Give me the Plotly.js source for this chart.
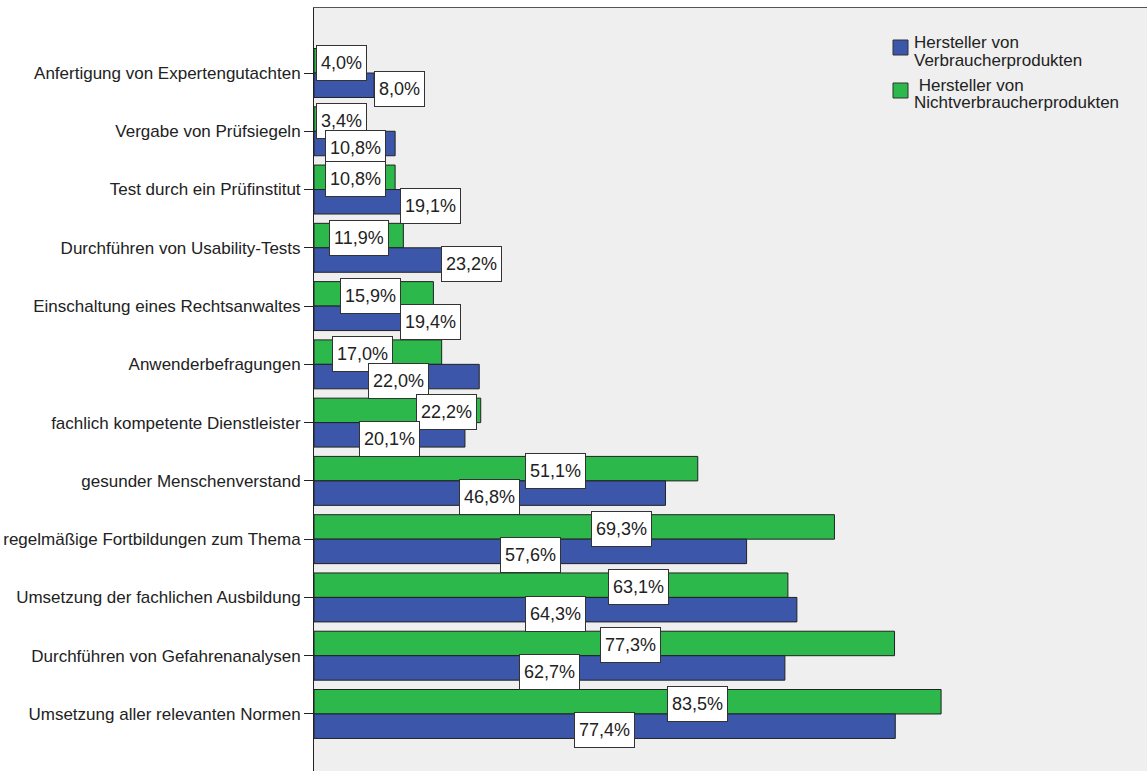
<!DOCTYPE html>
<html>
<head>
<meta charset="utf-8">
<script src="https://cdn.plot.ly/plotly-3.0.1.min.js"></script>
<style>
  html, body { margin: 0; padding: 0; background: #ffffff; }
  #chart { width: 1147px; height: 771px; }
</style>
</head>
<body>
<div id="chart"></div>
<script>
// Maßnahmen zur Absicherung – Anteil der Nennungen in Prozent
const categories = [
  "Anfertigung von Expertengutachten",
  "Vergabe von Prüfsiegeln",
  "Test durch ein Prüfinstitut",
  "Durchführen von Usability-Tests",
  "Einschaltung eines Rechtsanwaltes",
  "Anwenderbefragungen",
  "fachlich kompetente Dienstleister",
  "gesunder Menschenverstand",
  "regelmäßige Fortbildungen zum Thema",
  "Umsetzung der fachlichen Ausbildung",
  "Durchführen von Gefahrenanalysen",
  "Umsetzung aller relevanten Normen"
];

const verbraucher = [8.0, 10.8, 19.1, 23.2, 19.4, 22.0, 20.1, 46.8, 57.6, 64.3, 62.7, 77.4];
const nichtverbraucher = [4.0, 3.4, 10.8, 11.9, 15.9, 17.0, 22.2, 51.1, 69.3, 63.1, 77.3, 83.5];

const seriesNames = [
  ["Hersteller von", "Verbraucherprodukten"],
  [" Hersteller von", "Nichtverbraucherprodukten"]
];

// Horizontal anchor (in % units) of each value label box
const labelPosVerbraucher = [11.4, 5.5, 15.5, 21.0, 15.5, 11.2, 10.0, 23.4, 28.8, 32.2, 31.4, 38.7];
const labelPosNicht = [3.6, 3.6, 5.5, 6.0, 7.5, 6.5, 17.6, 32.2, 41.0, 43.2, 42.1, 51.0];

const BLUE = "#3c56aa";
const GREEN = "#2db84b";
const FONT = "Liberation Sans, Arial, sans-serif";

const idx = categories.map((_, i) => i);
const fmt = v => v.toFixed(1).replace(".", ",") + "%";

const traces = [
  {
    type: "bar", orientation: "h", name: "Nicht",
    x: nichtverbraucher, y: idx,
    marker: { color: GREEN, line: { color: "#222222", width: 1 } },
    hoverinfo: "x+y", showlegend: false
  },
  {
    type: "bar", orientation: "h", name: "Verbraucher",
    x: verbraucher, y: idx,
    marker: { color: BLUE, line: { color: "#222222", width: 1 } },
    hoverinfo: "x+y", showlegend: false
  }
];

// plot frame in pixels
const L = 314, T = 8, W = 1147 - 314, H = 771 - 8;
const px = x => (x - L) / W;
const py = y => 1 - (y - T) / H;

const annotations = [];
const OFF = 0.21;
const labelStyle = {
  showarrow: false, xref: "x", yref: "y",
  font: { family: FONT, size: 18, color: "#222222" },
  bgcolor: "#ffffff", bordercolor: "#333333", borderwidth: 1, borderpad: 4,
  height: 26
};
idx.forEach(i => {
  annotations.push(Object.assign({}, labelStyle, {
    x: labelPosNicht[i], y: i - OFF, yshift: -2,
    text: fmt(nichtverbraucher[i])
  }));
  annotations.push(Object.assign({}, labelStyle, {
    x: labelPosVerbraucher[i], y: i + OFF, yshift: -4,
    text: fmt(verbraucher[i])
  }));
});

// legend entries
const legendRows = [
  { color: BLUE, box: [893, 40], lines: seriesNames[0], textY: [43, 60] },
  { color: GREEN, box: [893, 83], lines: seriesNames[1], textY: [85, 102] }
];
const shapes = [];
legendRows.forEach(r => {
  shapes.push({
    type: "rect", xref: "paper", yref: "paper",
    x0: px(r.box[0]), x1: px(r.box[0] + 15),
    y0: py(r.box[1]), y1: py(r.box[1] + 15),
    fillcolor: r.color, line: { color: "#333333", width: 1 }
  });
  r.lines.forEach((t, k) => {
    annotations.push({
      x: px(912), y: py(r.textY[k]), xref: "paper", yref: "paper",
      xanchor: "left", yanchor: "middle", showarrow: false,
      text: t.replace(/^ /, "&nbsp;"),
      font: { family: FONT, size: 17, color: "#222222" }
    });
  });
});

const layout = {
  width: 1147, height: 771,
  margin: { l: L, r: 0, t: T, b: 0, pad: 0 },
  paper_bgcolor: "#ffffff",
  plot_bgcolor: "#efefef",
  barmode: "group",
  bargap: 0.16,
  bargroupgap: 0,
  showlegend: false,
  xaxis: {
    range: [0, W / 7.51],
    side: "top",
    showline: true, linecolor: "#555555", linewidth: 1,
    showgrid: false, zeroline: false,
    showticklabels: false, ticks: ""
  },
  yaxis: {
    range: [(771 - 73) / 58.27, -(73 - 8) / 58.27],
    tickvals: idx, ticktext: categories,
    ticks: "outside", ticklen: 9, tickcolor: "#222222", tickwidth: 1,
    showline: true, linecolor: "#222222", linewidth: 1,
    showgrid: false, zeroline: false,
    tickfont: { family: FONT, size: 17, color: "#222222" }
  },
  annotations: annotations,
  shapes: shapes
};

Plotly.newPlot("chart", traces, layout, { displayModeBar: false, staticPlot: true });
</script>
</body>
</html>
